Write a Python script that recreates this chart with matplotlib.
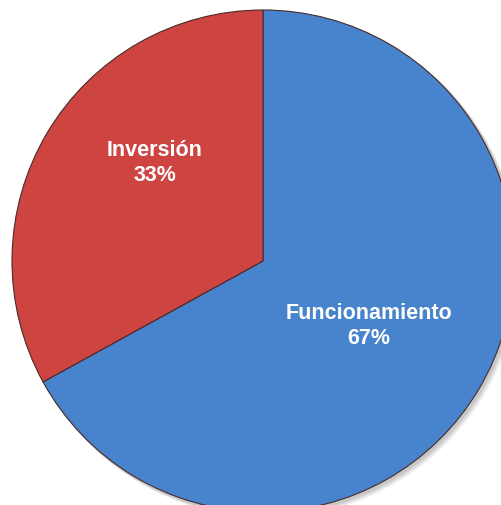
import numpy as np
import matplotlib.pyplot as plt
import matplotlib.patches as patches

# data
labels = ["Funcionamiento", "Inversión"]
shares = [67, 33]
colors = ["#4883cd", "#cd4441"]

W, H = 501, 506
fig = plt.figure(figsize=(W / 100, H / 100), dpi=100)
ax = fig.add_axes([0, 0, 1, 1])

cx, cy, r = 263, H - 262, 251

# soft drop shadow
for k, a in enumerate([0.05, 0.05, 0.06, 0.07]):
    off = 5 - k
    ax.add_patch(patches.Circle((cx + off, cy - off), r + 1, color="black", alpha=a, lw=0, zorder=0))

wedges, _ = ax.pie(shares, colors=colors, startangle=90, counterclock=False,
                   center=(cx, cy), radius=r, frame=True,
                   wedgeprops=dict(edgecolor="#4a2a2a", linewidth=0.8))
ax.set_xlim(0, W)
ax.set_ylim(0, H)
ax.set_aspect("equal")
ax.axis("off")

txt = dict(color="white", fontsize=15.5, fontweight="bold", family="Liberation Sans",
           ha="center", va="center", linespacing=1.2, zorder=5)
ax.text(369, H - 326, f"{labels[0]}\n{shares[0]}%", **txt)
ax.text(155, H - 163, f"{labels[1]}\n{shares[1]}%", **txt)

fig.savefig("out.png", dpi=100)
